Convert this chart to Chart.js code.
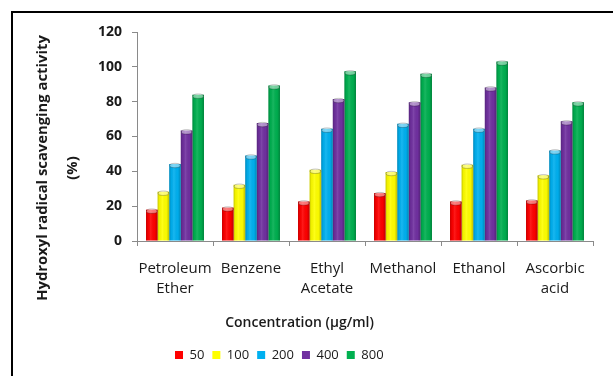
<!DOCTYPE html>
<html>
<head>
<meta charset="utf-8">
<script src="https://cdn.jsdelivr.net/npm/chart.js@4/dist/chart.umd.min.js"></script>
<style>
  html, body { margin: 0; padding: 0; background: #fff; }
  #wrap { position: relative; width: 613px; height: 376px; overflow: hidden; }
  #frame { position: absolute; left: 11px; top: 11px; width: 700px; height: 500px;
           border-left: 2.5px solid #000; border-top: 2.5px solid #000; pointer-events: none; }
  canvas { position: absolute; left: 0; top: 0; }
</style>
</head>
<body>
<div id="wrap">
  <canvas id="c" width="613" height="376"></canvas>
  <div id="frame"></div>
</div>
<script>
// Extract groups along the x axis
const categories = [['Petroleum', 'Ether'], 'Benzene', ['Ethyl', 'Acetate'], 'Methanol', 'Ethanol', ['Ascorbic', 'acid']];

// Concentration series (µg/ml) and their scavenging activity (%)
const seriesNames = ['50', '100', '200', '400', '800'];
const conc50  = [18.0, 19.2, 22.7, 27.5, 22.7, 23.3];
const conc100 = [28.3, 32.3, 40.9, 39.6, 43.8, 37.7];
const conc200 = [44.2, 49.1, 64.5, 67.3, 64.5, 52.0];
const conc400 = [63.5, 67.7, 81.5, 79.6, 88.2, 68.7];
const conc800 = [84.0, 89.3, 97.4, 96.0, 103.0, 79.6];

const yTicks = [0, 20, 40, 60, 80, 100, 120];

const colors = ['#ff0000', '#ffff00', '#00b0f0', '#7030a0', '#00b050'];
const seriesValues = [conc50, conc100, conc200, conc400, conc800];

const FONT = '"Open Sans", "Liberation Sans", sans-serif';
const TEXT = '#1a1a1a';
const AXIS = '#8a8a8a';

// Cylinder-like shading and a lit top cap on every bar
const barShade = {
  id: 'barShade',
  afterDatasetsDraw(chart) {
    const ctx = chart.ctx;
    chart.data.datasets.forEach((ds, i) => {
      const meta = chart.getDatasetMeta(i);
      if (meta.hidden) return;
      meta.data.forEach(el => {
        const { x, y, width, base } = el.getProps(['x', 'y', 'width', 'base'], true);
        const l = x - width / 2, r = x + width / 2;
        ctx.save();
        const g = ctx.createLinearGradient(l, 0, r, 0);
        g.addColorStop(0, 'rgba(0,0,0,0.22)');
        g.addColorStop(0.18, 'rgba(0,0,0,0.04)');
        g.addColorStop(0.4, 'rgba(255,255,255,0.10)');
        g.addColorStop(0.75, 'rgba(0,0,0,0.02)');
        g.addColorStop(1, 'rgba(0,0,0,0.25)');
        ctx.fillStyle = g;
        ctx.fillRect(l, y, width, base - y);
        // top cap
        ctx.beginPath();
        ctx.ellipse(x, y + 1.5, width / 2 - 0.5, 2.2, 0, 0, Math.PI * 2);
        ctx.fillStyle = 'rgba(255,255,255,0.45)';
        ctx.fill();
        ctx.lineWidth = 0.8;
        ctx.strokeStyle = 'rgba(0,0,0,0.3)';
        ctx.stroke();
        ctx.restore();
      });
    });
  }
};

// Axis titles
const axisTitles = {
  id: 'axisTitles',
  afterDraw(chart) {
    const ctx = chart.ctx;
    ctx.save();
    ctx.fillStyle = TEXT;
    ctx.textAlign = 'center';
    ctx.textBaseline = 'middle';
    ctx.font = '600 14px ' + FONT;
    ctx.fillText('Concentration (µg/ml)', 299.5, 323);
    ctx.translate(43, 168);
    ctx.rotate(-Math.PI / 2);
    ctx.font = 'bold 14.8px ' + FONT;
    ctx.fillText('Hydroxyl radical scavenging activity', 0, 0);
    ctx.fillText('(%)', 0, 30);
    ctx.restore();
  }
};

// Legend sits under the titles, left of the plot centre
const legendPlacement = {
  id: 'legendPlacement',
  afterLayout(chart) {
    const lg = chart.legend;
    const w = lg.right - lg.left;
    lg.left = 167;
    lg.right = lg.left + w;
  }
};

new Chart(document.getElementById('c'), {
  type: 'bar',
  data: {
    labels: categories,
    datasets: seriesValues.map((vals, i) => ({
      label: seriesNames[i],
      data: vals,
      backgroundColor: colors[i],
      borderWidth: 0,
      categoryPercentage: 0.763,
      barPercentage: 1.0
    }))
  },
  options: {
    responsive: false,
    animation: false,
    layout: { padding: { left: 12, top: 32, right: 20, bottom: 4.5 } },
    plugins: {
      legend: {
        position: 'bottom',
        align: 'start',
        labels: {
          boxWidth: 8, boxHeight: 8, padding: 8,
          color: TEXT,
          font: { family: FONT, size: 13 }
        }
      },
      tooltip: { enabled: false }
    },
    scales: {
      x: {
        grid: { drawOnChartArea: false, tickLength: 5, color: AXIS },
        border: { color: AXIS },
        ticks: {
          color: TEXT, padding: 13, maxRotation: 0, autoSkip: false,
          font: { family: FONT, size: 15, lineHeight: 1.33 }
        },
        afterFit(s) { s.height = 99.5; }
      },
      y: {
        min: 0, max: 120,
        afterBuildTicks(s) { s.ticks = yTicks.map(v => ({ value: v })); },
        grid: { drawOnChartArea: false, tickLength: 5, color: AXIS },
        border: { color: AXIS },
        ticks: {
          color: TEXT, padding: 10,
          font: { family: FONT, size: 14, weight: 'bold' }
        },
        afterFit(s) { s.width = 125; }
      }
    }
  },
  plugins: [barShade, axisTitles, legendPlacement]
});
</script>
</body>
</html>
